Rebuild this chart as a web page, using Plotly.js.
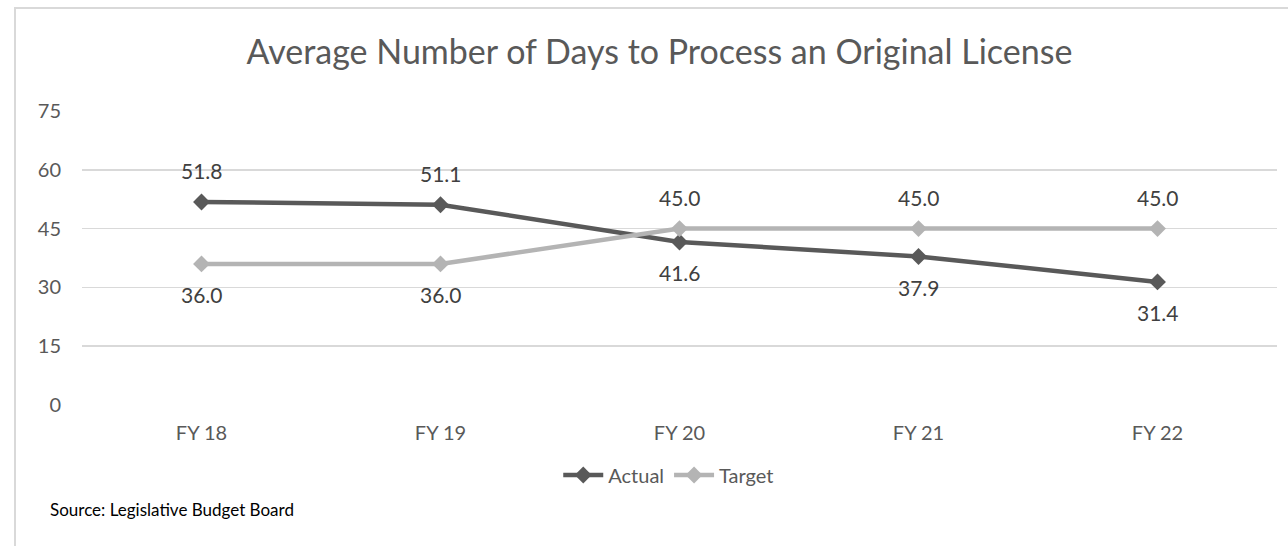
<!DOCTYPE html>
<html>
<head>
<meta charset="utf-8">
<script src="https://cdn.plot.ly/plotly-3.0.1.min.js"></script>
<style>
  html, body { margin: 0; padding: 0; background: #fff; }
  #wrap { position: relative; width: 1288px; height: 546px; }
  #chart { width: 1288px; height: 546px; }
  #frame { position: absolute; left: 14px; top: 7px; width: 1274px; height: 539px;
           border-top: 2px solid #d9d9d9; border-left: 2px solid #d9d9d9; pointer-events: none; box-sizing: border-box; }
</style>
</head>
<body>
<div id="wrap">
  <div id="chart"></div>
  <div id="frame"></div>
</div>
<script>
const categories = ["FY 18", "FY 19", "FY 20", "FY 21", "FY 22"];
const actual = [51.8, 51.1, 41.6, 37.9, 31.4];
const target = [36.0, 36.0, 45.0, 45.0, 45.0];
const actualLabelSide = [1, 1, -1, -1, -1];   // 1 = above, -1 = below
const targetLabelSide = [-1, -1, 1, 1, 1];
const yTicks = [0, 15, 30, 45, 60, 75];

const FONT = "Lato, 'DejaVu Sans', sans-serif";
const TXT = "#595959";

const traces = [
  {
    x: categories, y: actual, name: "Actual", type: "scatter", mode: "lines+markers",
    line: { color: "#595959", width: 4.5 },
    marker: { symbol: "diamond", size: 13, color: "#595959" }
  },
  {
    x: categories, y: target, name: "Target", type: "scatter", mode: "lines+markers",
    line: { color: "#b4b4b4", width: 4.5 },
    marker: { symbol: "diamond", size: 13, color: "#b4b4b4" }
  }
];

const annotations = [];
categories.forEach((c, i) => {
  annotations.push({ x: c, y: actual[i], xref: "x", yref: "y", text: actual[i].toFixed(1),
    showarrow: false, yshift: 31 * actualLabelSide[i], font: { family: FONT, size: 21, color: "#404040" } });
  annotations.push({ x: c, y: target[i], xref: "x", yref: "y", text: target[i].toFixed(1),
    showarrow: false, yshift: 31 * targetLabelSide[i], font: { family: FONT, size: 21, color: "#404040" } });
});
annotations.push({
  x: -0.0285, y: -0.357, xref: "paper", yref: "paper", xanchor: "left", yanchor: "middle",
  text: "Source: Legislative Budget Board", showarrow: false,
  font: { family: FONT, size: 17, color: "#000000" }
});

const layout = {
  width: 1288, height: 546,
  margin: { l: 82, r: 11, t: 111, b: 141 },
  paper_bgcolor: "rgba(0,0,0,0)", plot_bgcolor: "#ffffff",
  title: { text: "Average Number of Days to Process an Original License",
    font: { family: FONT, size: 34, color: TXT }, x: 0.512, xanchor: "center", y: 0.905, yanchor: "middle" },
  xaxis: { type: "category", range: [-0.5, 4.5], showgrid: false, zeroline: false, showline: false,
    ticks: "", tickfont: { family: FONT, size: 20, color: TXT }, ticklabelstandoff: 14 },
  yaxis: { range: [0, 75], tickvals: yTicks, ticktext: yTicks.map(String), showgrid: true,
    gridcolor: "#d9d9d9", gridwidth: 1.5, zeroline: false, showline: false, ticks: "",
    tickfont: { family: FONT, size: 20, color: TXT }, ticklabelstandoff: 20 },
  showlegend: true,
  legend: { orientation: "h", x: 0.491, xanchor: "center", y: -0.238, yanchor: "middle",
    font: { family: FONT, size: 20, color: TXT }, itemwidth: 40, tracegroupgap: 0 },
  annotations: annotations
};

Plotly.newPlot("chart", traces, layout, { displayModeBar: false, staticPlot: true });
</script>
</body>
</html>
